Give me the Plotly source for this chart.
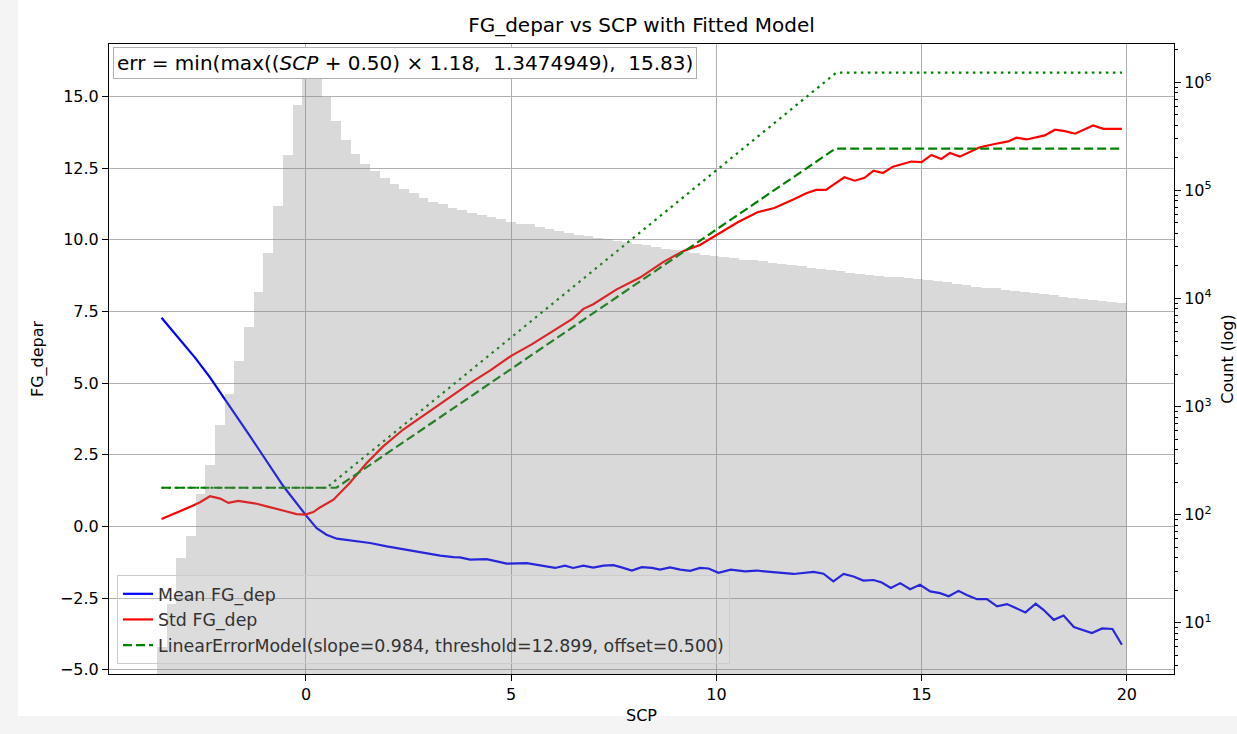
import numpy as np
import plotly.graph_objects as go

# ---------------- data ----------------
bin_start = -3.635
bin_width = 0.2363
hist_counts = [
    5, 14, 39, 63, 155, 288, 680, 1310, 2660, 5420, 11400, 26500, 71700, 211000, 615000, 1210000, 1190000,
    724000, 437000, 291000, 216000, 175000, 152000, 131500, 114000, 102300,
    94600, 85700, 78000, 74300, 69300, 66400, 61800, 58800, 56700, 54000, 50900, 49200, 48500, 45800,
    43600, 41800, 40000, 38700, 37600, 36400, 35200, 34400, 33400, 32000,
    31000, 30000, 29000, 27900, 27000, 26100, 25300, 24500, 24000, 23500,
    22700, 22500, 22000, 21300, 20900, 20200, 19800, 19200, 18800, 18200,
    17800, 17400, 16900, 16500, 16200, 15800, 15700, 15500, 15200, 14800,
    14400, 14100, 13600, 13200, 12900, 12600, 12400, 12100, 11700, 11500,
    11200, 11000, 10700, 10400, 10100, 9900, 9600, 9400, 9200, 9100,
]

mean_scp = [-3.52, -3.10, -2.70, -2.34, -2.02, -1.36, -0.55, -0.15, 0.02, 0.26, 0.50, 0.75, 1.15, 1.56,
            1.97, 2.29, 2.62, 2.94, 3.27, 3.59, 3.75, 4.00, 4.40, 4.65, 4.89, 5.38, 5.70, 6.07, 6.31,
            6.51, 6.76, 7.00, 7.25, 7.49, 7.69, 7.94, 8.18, 8.43, 8.63, 8.87, 9.12, 9.36, 9.60, 9.81,
            10.05, 10.35, 10.70, 10.98, 11.31, 11.88, 12.37, 12.61, 12.85, 13.10, 13.34, 13.58, 13.83,
            14.03, 14.25, 14.48, 14.72, 14.96, 15.21, 15.45, 15.66, 15.90, 16.10, 16.35, 16.59, 16.84,
            17.08, 17.29, 17.53, 17.78, 17.97, 18.22, 18.46, 18.71, 19.15, 19.40, 19.65, 19.88]
mean_fg = [7.28, 6.57, 5.88, 5.20, 4.54, 3.14, 1.40, 0.64, 0.35, -0.06, -0.29, -0.43, -0.50, -0.58,
           -0.70, -0.78, -0.87, -0.93, -1.02, -1.07, -1.08, -1.16, -1.14, -1.22, -1.30, -1.28, -1.35,
           -1.45, -1.37, -1.45, -1.37, -1.44, -1.37, -1.35, -1.43, -1.54, -1.42, -1.45, -1.51, -1.43,
           -1.51, -1.55, -1.45, -1.47, -1.62, -1.51, -1.57, -1.54, -1.59, -1.66, -1.59, -1.65, -1.92,
           -1.66, -1.75, -1.89, -1.87, -1.96, -2.15, -1.98, -2.19, -2.04, -2.27, -2.33, -2.44, -2.25,
           -2.39, -2.54, -2.54, -2.79, -2.71, -2.85, -3.00, -2.70, -2.91, -3.26, -3.11, -3.51, -3.72,
           -3.56, -3.58, -4.13]

std_scp = [-3.52, -3.15, -2.79, -2.58, -2.34, -2.09, -1.89, -1.65, -1.44, -1.20, -0.96, -0.71, -0.47,
           -0.23, -0.02, 0.18, 0.34, 0.67, 1.07, 1.48, 1.88, 2.37, 3.00, 3.50, 4.00, 4.50, 5.00, 5.50,
           6.00, 6.50, 6.76, 7.00, 7.57, 8.14, 8.71, 9.20, 9.60, 10.09, 10.52, 11.00, 11.41, 11.90, 12.19,
           12.43, 12.67, 12.88, 13.12, 13.37, 13.61, 13.83, 14.06, 14.30, 14.75, 15.00, 15.24, 15.48,
           15.69, 15.93, 16.17, 16.42, 16.78, 17.11, 17.31, 17.56, 18.00, 18.25, 18.49, 18.74, 19.18,
           19.43, 19.88]
std_fg = [0.26, 0.47, 0.70, 0.84, 1.05, 0.97, 0.82, 0.89, 0.84, 0.79, 0.70, 0.62, 0.52,
          0.43, 0.41, 0.50, 0.66, 0.93, 1.52, 2.21, 2.79, 3.38, 4.00, 4.50, 5.00, 5.45, 5.95, 6.35,
          6.80, 7.25, 7.59, 7.75, 8.27, 8.68, 9.23, 9.61, 9.82, 10.25, 10.61, 10.96, 11.11, 11.42, 11.62,
          11.74, 11.74, 11.95, 12.18, 12.06, 12.16, 12.41, 12.33, 12.55, 12.73, 12.71, 12.96, 12.82,
          13.03, 12.90, 13.05, 13.23, 13.34, 13.43, 13.56, 13.50, 13.64, 13.84, 13.79, 13.70, 13.99,
          13.87, 13.87]

model_scp = [-3.52, 0.74, 12.90, 19.88]
model_fg = [1.3475, 1.3475, 13.18, 13.18]
err_scp = [-3.52, 0.50, 12.92, 19.88]
err_fg = [1.3475, 1.3475, 15.83, 15.83]

x_ticks = [0, 5, 10, 15, 20]
y_ticks = [-5.0, -2.5, 0.0, 2.5, 5.0, 7.5, 10.0, 12.5, 15.0]
count_tick_exps = [1, 2, 3, 4, 5, 6]

# ---------------- figure ----------------
bin_centers = bin_start + bin_width * (np.arange(len(hist_counts)) + 0.5)
FONT = "DejaVu Sans"
W, H = 1237, 734
L, R, T, B = 109, 63, 44, 60
PW, PH = W - L - R, H - T - B

fig = go.Figure()
fig.add_trace(go.Scatter(x=mean_scp, y=mean_fg, mode="lines", name="Mean FG_dep",
                         line=dict(color="#0000ff", width=2.2), legendgroup="a"))
fig.add_trace(go.Scatter(x=std_scp, y=std_fg, mode="lines", name="Std FG_dep",
                         line=dict(color="#ff0000", width=2.2), legendgroup="b"))
fig.add_trace(go.Scatter(x=model_scp, y=model_fg, mode="lines",
                         name="LinearErrorModel(slope=0.984, threshold=12.899, offset=0.500)",
                         line=dict(color="#008000", width=2.2, dash="9px,4px"), legendgroup="c"))
fig.add_trace(go.Scatter(x=err_scp, y=err_fg, mode="lines", showlegend=False,
                         line=dict(color="#008000", width=2.2, dash="2.5px,4.5px")))
fig.add_trace(go.Bar(x=bin_centers, y=hist_counts, width=bin_width, base=1, yaxis="y2",
                     marker=dict(color="rgba(128,128,128,0.3)", line=dict(width=0)),
                     showlegend=False))

minor_vals = [m * 10 ** e for e in range(0, 7) for m in range(2, 10)]

fig.update_layout(
    width=W, height=H,
    paper_bgcolor="#f4f4f4", plot_bgcolor="white",
    margin=dict(l=L, r=R, t=T, b=B),
    font=dict(family=FONT, size=16, color="black"),
    bargap=0,
    title=dict(text="FG_depar vs SCP with Fitted Model", x=0.5, xref="paper", xanchor="center",
               y=1 - 25 / H, yanchor="middle", font=dict(size=20, color="black")),
    xaxis=dict(range=[-4.80, 21.15], tickvals=x_ticks, ticks="outside", ticklen=6, tickcolor="black",
               showline=True, linecolor="black", linewidth=1, mirror=True,
               showgrid=True, gridcolor="#b0b0b0", gridwidth=0.8, zeroline=False,
               tickfont=dict(size=16),
               title=dict(text="SCP", standoff=6, font=dict(size=16)), automargin=False),
    yaxis=dict(range=[-5.15, 16.83], tickvals=y_ticks, tickformat=".1f", ticks="outside", ticklen=6,
               tickcolor="black", showline=True, linecolor="black", linewidth=1,
               showgrid=True, gridcolor="#b0b0b0", gridwidth=0.8, zeroline=False,
               tickfont=dict(size=16),
               title=dict(text="FG_depar", standoff=12, font=dict(size=16)), automargin=False),
    yaxis2=dict(type="log", range=[0.527, 6.354], overlaying="y", side="right",
                tickmode="array", tickvals=[10 ** e for e in count_tick_exps],
                ticktext=["10<sup>%d</sup>" % e for e in count_tick_exps],
                ticks="outside", ticklen=6, tickcolor="black", showline=True, linecolor="black",
                linewidth=1, showgrid=False, zeroline=False, tickfont=dict(size=16),
                minor=dict(tickmode="array", tickvals=minor_vals, ticks="outside", ticklen=3,
                           tickcolor="black", showgrid=False),
                title=dict(text="Count (log)", standoff=14, font=dict(size=16)), automargin=False),
    legend=dict(x=8 / PW, y=10 / PH, xanchor="left", yanchor="bottom",
                bgcolor="rgba(255,255,255,0.1)", bordercolor="#cccccc", borderwidth=1,
                font=dict(size=17.4, color="#333333"), traceorder="grouped", tracegroupgap=0,
                itemwidth=30),
    shapes=[dict(type="rect", xref="paper", yref="paper", x0=-(L - 18) / PW, x1=(W - L) / PW + 0.01,
                 y0=-(716 - (H - B)) / PH, y1=1 + T / PH + 0.02, fillcolor="white", line=dict(width=0),
                 layer="below")],
    annotations=[dict(text="err = min(max((<i>SCP</i> + 0.50) × 1.18,  1.3474949),  15.83)",
                      xref="paper", yref="paper", x=4 / PW, y=1 - 3 / PH, xanchor="left", yanchor="top",
                      showarrow=False, font=dict(size=20, color="black"), bgcolor="white",
                      bordercolor="#b0b0b0", borderwidth=1, borderpad=3, align="left")],
)

fig.write_html("out.html", config={"displayModeBar": False},
               post_script="document.body.style.margin='0';document.body.style.padding='0';"
                           "document.body.style.overflow='hidden';")
